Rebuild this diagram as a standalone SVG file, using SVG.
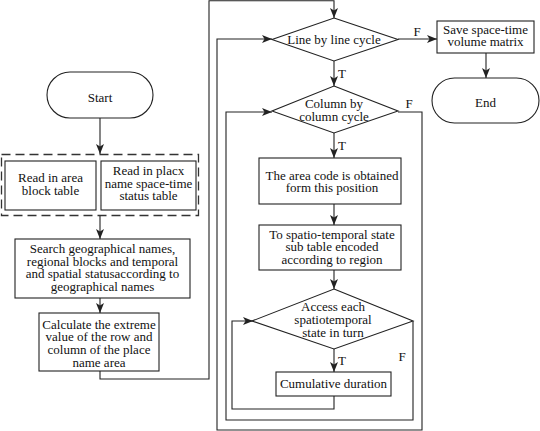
<svg xmlns="http://www.w3.org/2000/svg" width="540" height="431" viewBox="0 0 540 431">
<style>
.s{fill:#fff;stroke:#222;stroke-width:1.1}
.c{fill:none;stroke:#222;stroke-width:1.1}
.d{fill:none;stroke:#333;stroke-width:1.3;stroke-dasharray:9 5}
text{font-family:"Liberation Serif","DejaVu Serif",serif;font-size:13px;fill:#111;text-anchor:middle}
</style>
<defs>
<marker id="a" markerUnits="userSpaceOnUse" markerWidth="10" markerHeight="8" refX="10" refY="4" orient="auto">
<path d="M0,0 L10,4 L0,8 L2.5,4 z" fill="#222"/>
</marker>
</defs>
<rect width="540" height="431" fill="#fff"/>
<g id="connectors">
<path class="c" d="M100,118 V154" marker-end="url(#a)"/>
<path class="c" d="M100,215 V239" marker-end="url(#a)"/>
<path class="c" d="M100,298 V313" marker-end="url(#a)"/>
<path class="c" d="M100,371 V379 H209 V0.8 H334 V18" marker-end="url(#a)"/>
<path class="c" d="M334,61 V86" marker-end="url(#a)"/>
<path class="c" d="M334,133 V158" marker-end="url(#a)"/>
<path class="c" d="M334,204 V225" marker-end="url(#a)"/>
<path class="c" d="M334,270 V289" marker-end="url(#a)"/>
<path class="c" d="M334,349 V372" marker-end="url(#a)"/>
<path class="c" d="M334,396 V409 H232 V321 H253" marker-end="url(#a)"/>
<path class="c" d="M413,321 V420 H226 V112 H272" marker-end="url(#a)"/>
<path class="c" d="M398,112 H422 V430 H217 V39 H272" marker-end="url(#a)"/>
<path class="c" d="M398,39 H437" marker-end="url(#a)"/>
<path class="c" d="M486,53 V78" marker-end="url(#a)"/>
<text x="342" y="78">T</text>
<text x="342" y="150">T</text>
<text x="342" y="365">T</text>
<text x="402" y="361">F</text>
<text x="417" y="36">F</text>
<text x="409" y="108">F</text>
</g>
<g id="start">
<rect class="s" x="47" y="72" width="106" height="46" rx="23"/>
<text x="100" y="101.5">Start</text>
</g>
<g id="readgroup">
<rect class="d" x="1.5" y="154.5" width="197" height="61"/>
</g>
<g id="readarea">
<rect class="s" x="5" y="161" width="91" height="49"/>
<text x="50.5" y="181.5">Read in area</text>
<text x="50.5" y="195">block table</text>
</g>
<g id="readplace">
<rect class="s" x="101" y="161" width="95" height="49"/>
<text x="148.5" y="174.5">Read in placx</text>
<text x="148.5" y="187.5">name space-time</text>
<text x="148.5" y="200">status table</text>
</g>
<g id="search">
<rect class="s" x="15" y="239" width="175" height="59"/>
<text x="102.5" y="253">Search geographical names,</text>
<text x="102.5" y="265.7">regional blocks and temporal</text>
<text x="102.5" y="278.4">and spatial statusaccording to</text>
<text x="102.5" y="291.1">geographical names</text>
</g>
<g id="calculate">
<rect class="s" x="39" y="313" width="120" height="58"/>
<text x="99" y="328.5">Calculate the extreme</text>
<text x="99" y="341.2">value of the row and</text>
<text x="99" y="353.9">column of the place</text>
<text x="99" y="366.6">name area</text>
</g>
<g id="linecycle">
<polygon class="s" points="334,18 398,39.5 334,61 272,39.5"/>
<text x="334" y="43.5">Line by line cycle</text>
</g>
<g id="save">
<rect class="s" x="437" y="21" width="97" height="32"/>
<text x="485.5" y="33.5">Save space-time</text>
<text x="485.5" y="46">volume matrix</text>
</g>
<g id="end">
<rect class="s" x="432" y="78" width="107" height="45" rx="22.5"/>
<text x="485.5" y="106.5">End</text>
</g>
<g id="columncycle">
<polygon class="s" points="334,86 398,111 334,133 272,111"/>
<text x="334" y="107.5">Column by</text>
<text x="334" y="120.5">column cycle</text>
</g>
<g id="areacode">
<rect class="s" x="259" y="158" width="142" height="46"/>
<text x="332" y="179.5">The area code is obtained</text>
<text x="332" y="192">form this position</text>
</g>
<g id="subtable">
<rect class="s" x="259" y="225" width="142" height="45"/>
<text x="332" y="238.5">To spatio-temporal state</text>
<text x="332" y="251">sub table encoded</text>
<text x="332" y="263.5">according to region</text>
</g>
<g id="access">
<polygon class="s" points="334,289 413,321 334,349 252,321"/>
<text x="333" y="311">Access each</text>
<text x="333" y="324">spatiotemporal</text>
<text x="333" y="336.5">state in turn</text>
</g>
<g id="cumulative">
<rect class="s" x="276" y="372" width="115" height="24"/>
<text x="333.5" y="388">Cumulative duration</text>
</g>
</svg>
